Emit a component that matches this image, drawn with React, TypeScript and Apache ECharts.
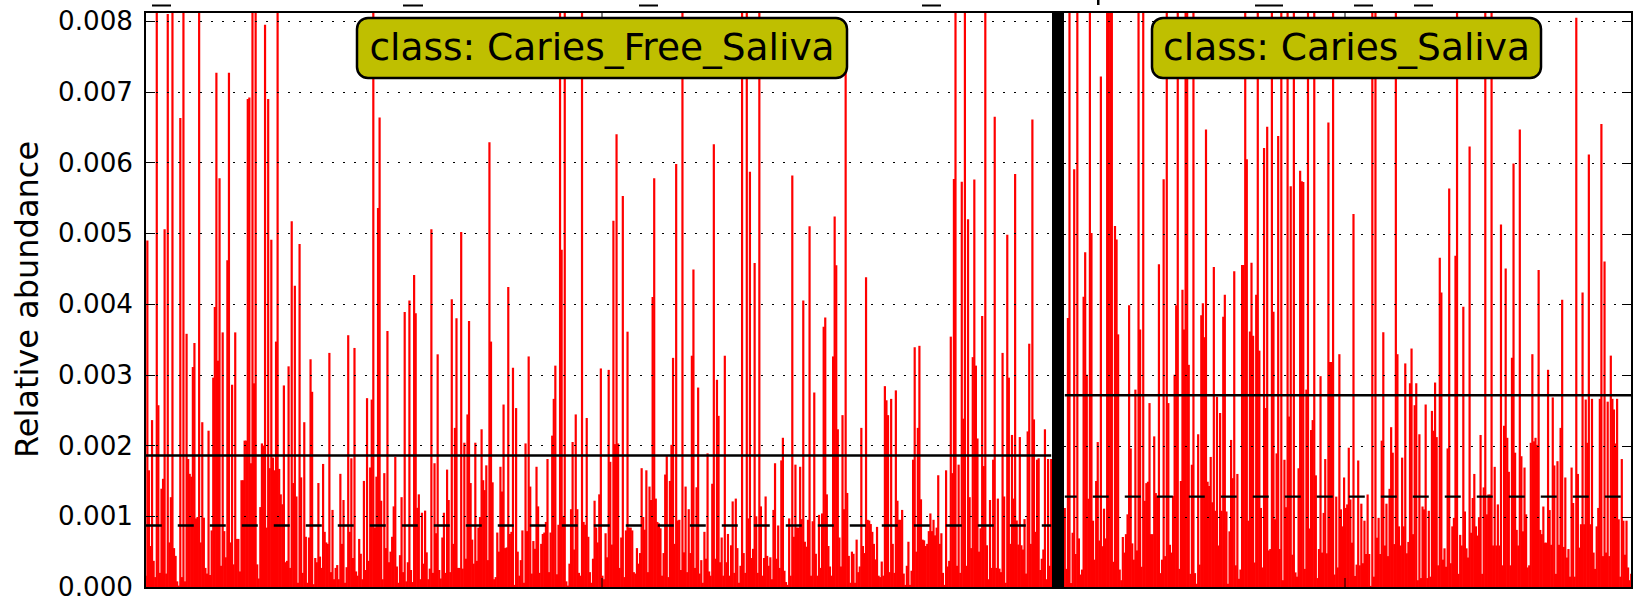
import React, { useEffect, useRef } from "react";
import * as echarts from "echarts";

// Relative abundance, in units of 1e-5 (900 = clipped at the top of the axes)
const UNIT = 1e-5;
const leftA = [16,490,165,58,236,37,14,900,257,20,139,153,506,19,810,63,127,900,55,44,8,2,663,14,900,8,358,181,160,156,311,345,97,99,900,63,233,98,27,19,221,17,80,296,396,727,320,578,30,360,79,42,462,727,63,286,32,360,68,68,22,151,151,207,207,690,692,175,900,288,900,32,12,113,203,200,795,84,690,168,491,183,165,347,900,167,131,117,285,35,37,312,27,517,147,426,128,6,485,155,20,233,71,6,70,322,276,4,41,35,147,43,27,174,78,63,61,331,21,109,11,27,31,11,160,61,123,6,28,356,78,182,41,338,22,16,68,47,11,150,24,267,37,169];
const leftB = [265,900,84,156,536,664,122,11,161,55,362,35,50,71,114,184,29,6,45,127,21,389,8,35,405,24,7,441,387,112,131,11,105,33,108,49,11,26,506,20,175,76,329,24,12,70,105,20,166,123,21,407,61,225,380,27,27,502,26,204,40,244,376,147,67,33,204,37,84,99,223,151,137,172,38,629,347,148,11,14,77,50,170,135,258,55,56,424,75,78,310,3,253,50,16,38,80,6,203,79,326,142,19,65,54,170,114,20,61,75,77,92,181,21,77,214,266,313,18,88,900,477,100,900,8,2,33,110,205,53,244,110,20,16,900,92,88,239,71,21,6,40,122];
const leftC = [84,63,131,309,16,11,76,42,307,177,60,518,202,640,203,27,70,553,14,80,361,84,84,80,21,19,55,33,48,168,99,81,165,21,142,123,410,578,125,92,90,83,16,48,159,185,14,150,201,324,61,598,94,95,24,900,49,142,21,110,48,327,449,27,141,282,19,38,6,78,40,189,22,16,146,626,40,293,242,35,70,16,327,35,75,16,59,121,20,125,55,6,30,900,48,20,900,97,587,41,54,458,100,20,900,114,16,41,128,44,30,42,11,109,175,40,87,27,179,211,23,7,3,97,16,582,71,173,84,84,170,96,405,64,57,95,510,16,93,275,47,16,102,27,104,368];
const leftD = [381,131,58,29,16,326,524,455,223,70,29,243,110,760,133,44,6,50,47,6,67,21,29,225,58,48,438,95,94,89,78,61,39,85,16,14,36,16,284,264,243,21,266,61,20,278,122,95,95,109,19,3,30,64,3,23,180,339,50,225,341,124,67,66,58,61,79,104,79,95,73,84,158,61,76,20,3,165,29,37,354,161,577,900,30,173,20,573,238,900,30,520,127,55,325,576,313,210,50,83,383,171,900,59,11,123,27,180,665,27,125,26,21,331,128,6,498,296,61,215,125,584,94,60,212,59,53,96,19,220,344,61,661,237,78,180,182,24,40,53,223,11,181,30,181];
const rightA = [113,27,381,900,7,78,591,48,900,70,19,26,411,474,301,126,900,501,95,40,151,206,67,722,59,112,70,900,900,900,900,37,511,492,358,26,11,72,50,76,104,399,197,63,40,280,53,900,365,30,900,123,148,150,261,76,76,214,134,129,457,21,40,577,45,900,261,61,50,130,301,399,900,27,151,421,365,900,900,315,20,174,900,21,6,217,33,385,402,354,647,150,144,185,121,453,109,270,60,247,109,383,414,108,6,80,209,155,447,32,161,13,26,456,456,900,605,95,362,459,356];
const rightB = [36,414,900,335,113,29,621,254,651,53,55,900,390,97,190,638,55,900,11,181,114,900,242,567,47,900,22,16,169,589,574,573,27,280,900,84,223,237,900,159,14,55,299,50,106,182,49,657,319,319,900,19,129,29,330,111,87,156,113,118,198,125,64,528,17,33,180,32,119,35,95,48,132,48,3,900,16,900,71,99,48,208,361,60,119,45,140,227,191,62,900,330,87,60,184,87,317,49,65,289,338,76,258,289,11,217,14,115,111,259,14,109,16,250,222,290,213,32,466,417];
const rightC = [40,56,30,197,564,35,87,99,469,900,20,75,60,397,108,56,43,623,78,127,161,87,74,100,216,20,142,900,104,132,132,900,60,171,60,118,60,513,32,229,451,212,164,32,325,599,191,82,60,647,186,80,170,104,29,32,205,330,207,212,202,449,82,76,115,64,64,308,110,61,269,173,20,179,61,226,407,58,156,43,55,16,170,120,16,805,161,57,90,417,90,266,205,612,90,267,50,27,87,113,267,655,45,461,50,263,45,328,267,252,204,267,97,16,182,95,47,95,29,11,20];
const leftValues = [...leftA, ...leftB, ...leftC, ...leftD];
const rightValues = [...rightA, ...rightB, ...rightC];

const yTicks = [0, 0.001, 0.002, 0.003, 0.004, 0.005, 0.006, 0.007, 0.008];
const yMax = 0.00813;
const leftMean = 0.00186;
const leftMedian = 0.00087;
const rightMean = 0.00272;
const rightMedian = 0.00129;
const leftTitle = "class: Caries_Free_Saliva";
const rightTitle = "class: Caries_Saliva";
const yName = "Relative abundance";

const FONT = "DejaVu Sans";
const clippedMarks = [[152, 19], [403, 20], [639, 19], [922, 19], [1255, 28], [1354, 19], [1414, 19]];

function levelSeries(axis: number, values: number[], level: number, lineType: any, dashOffset = 0) {
  return {
    type: "line",
    xAxisIndex: axis,
    yAxisIndex: axis,
    data: values.map(() => level),
    showSymbol: false,
    symbol: "none",
    silent: true,
    z: 6,
    lineStyle: { color: "#000", width: 2.4, type: lineType, dashOffset },
  };
}

function titleBox(x: number, w: number, text: string) {
  return [
    { type: "rect", z: 20, shape: { x, y: 18, width: w, height: 60, r: 11 }, style: { fill: "#bfbf00", stroke: "#000", lineWidth: 2.5 } },
    { type: "text", z: 21, x: x + w / 2, y: 47, style: { text, fill: "#000", font: `37.5px "${FONT}"`, textAlign: "center", textVerticalAlign: "middle" } },
  ];
}

export default function App() {
  const ref = useRef<HTMLDivElement>(null);
  useEffect(() => {
    document.body.style.margin = "0";
    const chart = echarts.init(ref.current!, null, { renderer: "svg" });
    const yBase = {
      type: "value",
      min: 0,
      max: yMax,
      interval: 0.001,
      z: 5,
      axisLine: { show: false },
      axisTick: { show: true, inside: true, length: 10, lineStyle: { color: "#000", width: 1 } },
      splitLine: { show: true, lineStyle: { color: "#000", width: 1, type: [2, 9] } },
    };
    chart.setOption({
      animation: false,
      backgroundColor: "#fff",
      grid: [
        { left: 145, top: 12, width: 907, height: 576 },
        { left: 1064, top: 12, width: 568, height: 576 },
      ],
      xAxis: [
        { type: "category", gridIndex: 0, data: leftValues.map((_, i) => i), axisLine: { show: false }, axisTick: { show: false }, axisLabel: { show: false } },
        { type: "category", gridIndex: 1, data: rightValues.map((_, i) => i), axisLine: { show: false }, axisTick: { show: false }, axisLabel: { show: false } },
      ],
      yAxis: [
        {
          ...yBase,
          gridIndex: 0,
          name: yName,
          nameLocation: "middle",
          nameGap: 102,
          nameRotate: 90,
          nameTextStyle: { fontFamily: FONT, fontSize: 32, color: "#000" },
          axisLabel: {
            show: true,
            margin: 12,
            color: "#000",
            fontFamily: FONT,
            fontSize: 26.2,
            padding: [0, 0, 5, 0],
            showMaxLabel: false,
            formatter: (v: number) => (yTicks.some((t) => Math.abs(t - v) < 1e-7) ? v.toFixed(3) : ""),
          },
        },
        { ...yBase, gridIndex: 1, position: "right", axisLabel: { show: false } },
      ],
      series: [
        {
          type: "bar",
          xAxisIndex: 0,
          yAxisIndex: 0,
          data: leftValues.map((v) => v * UNIT),
          barWidth: 2.2,
          barGap: 0,
          z: 2,
          silent: true,
          itemStyle: { color: "#ff0000" },
        },
        {
          type: "bar",
          xAxisIndex: 1,
          yAxisIndex: 1,
          data: rightValues.map((v) => v * UNIT),
          barWidth: 2.2,
          barGap: 0,
          z: 2,
          silent: true,
          itemStyle: { color: "#ff0000" },
        },
        levelSeries(0, leftValues, leftMean, "solid"),
        levelSeries(0, leftValues, leftMedian, [16, 16]),
        levelSeries(1, rightValues, rightMean, "solid"),
        levelSeries(1, rightValues, rightMedian, [16, 16], 4),
      ],
      graphic: [
        { type: "rect", z: 15, shape: { x: 1052, y: 12, width: 12, height: 576 }, style: { fill: "#000" } },
        { type: "rect", z: 16, shape: { x: 145, y: 12, width: 1487, height: 576 }, style: { fill: "none", stroke: "#000", lineWidth: 2 } },
        ...[602, 1345].flatMap((x) => [
          { type: "line", z: 16, shape: { x1: x, y1: 12, x2: x, y2: 22 }, style: { stroke: "#000", lineWidth: 1 } },
          { type: "line", z: 16, shape: { x1: x, y1: 578, x2: x, y2: 588 }, style: { stroke: "#000", lineWidth: 1 } },
        ]),
        ...clippedMarks.map(([x, w]) => ({ type: "rect", z: 16, shape: { x, y: 4.5, width: w, height: 2 }, style: { fill: "#000" } })),
        { type: "rect", z: 16, shape: { x: 1097, y: 0, width: 2.5, height: 5 }, style: { fill: "#000" } },
        ...titleBox(357, 490, leftTitle),
        ...titleBox(1152, 389, rightTitle),
      ],
    });
    return () => chart.dispose();
  }, []);
  return <div ref={ref} style={{ position: "absolute", left: 0, top: 0, width: 1633, height: 600 }} />;
}
